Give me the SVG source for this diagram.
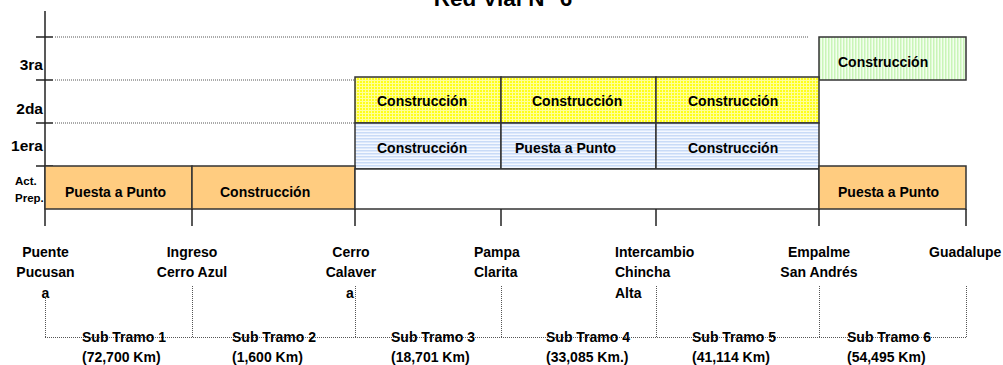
<svg xmlns="http://www.w3.org/2000/svg" width="1003" height="365" viewBox="0 0 1003 365">
<defs>
<pattern id="pY" width="3" height="3" patternUnits="userSpaceOnUse"><rect width="3" height="3" fill="#FFFF99"/><rect width="2" height="2" fill="#FFFF1A"/></pattern>
<pattern id="pB" width="3" height="3" patternUnits="userSpaceOnUse"><rect width="3" height="3" fill="#F4F8FF"/><rect width="3" height="1.5" fill="#C9DBF7"/></pattern>
<pattern id="pG" width="3" height="3" patternUnits="userSpaceOnUse"><rect width="3" height="3" fill="#F3FFEE"/><rect width="1.5" height="3" fill="#C9F5B8"/></pattern>
</defs>
<style>
text{font-family:"Liberation Sans",Arial,sans-serif;font-weight:bold;fill:#000}
.t{font-size:14px}
.r{font-size:15.5px;text-anchor:end}
.s{font-size:11.5px}
.c{text-anchor:middle}
.box{stroke:#333;stroke-width:1.5}
.ax{stroke:#222;stroke-width:1.5;fill:none}
.dot{stroke:#555;stroke-width:1;stroke-dasharray:1 1;fill:none}
</style>
<rect width="1003" height="365" fill="#fff"/>
<text x="503" y="6" class="c" style="font-size:22.5px">Red Vial N° 6</text>

<g id="axis">
<line class="ax" x1="45" y1="11" x2="45" y2="226"/>
<line class="ax" x1="36" y1="37" x2="53" y2="37"/>
<line class="ax" x1="36" y1="80" x2="53" y2="80"/>
<line class="ax" x1="36" y1="123" x2="53" y2="123"/>
<line class="ax" x1="36" y1="166" x2="53" y2="166"/>
<line class="dot" x1="55" y1="37" x2="809" y2="37"/>
<line class="dot" x1="55" y1="80" x2="355" y2="80"/>
<line class="dot" x1="55" y1="123" x2="355" y2="123"/>
<text x="43" y="70" class="r">3ra</text>
<text x="43" y="114" class="r">2da</text>
<text x="43" y="151" class="r">1era</text>
<text x="15" y="185" class="s">Act.</text>
<text x="15" y="202" class="s">Prep.</text>
</g>

<g id="row3">
<rect class="box" x="819" y="37" width="147" height="43" fill="url(#pG)"/>
<text x="838" y="67" class="t">Construcción</text>
</g>
<g id="row2">
<rect class="box" x="355" y="77" width="146" height="46" fill="url(#pY)"/>
<rect class="box" x="501" y="77" width="155" height="46" fill="url(#pY)"/>
<rect class="box" x="656" y="77" width="163" height="46" fill="url(#pY)"/>
<text x="377" y="106" class="t">Construcción</text>
<text x="532" y="106" class="t">Construcción</text>
<text x="688" y="106" class="t">Construcción</text>
</g>
<g id="row1">
<rect class="box" x="355" y="123" width="146" height="46" fill="url(#pB)"/>
<rect class="box" x="501" y="123" width="155" height="46" fill="url(#pB)"/>
<rect class="box" x="656" y="123" width="163" height="46" fill="url(#pB)"/>
<text x="377" y="153" class="t">Construcción</text>
<text x="515" y="153" class="t">Puesta a Punto</text>
<text x="688" y="153" class="t">Construcción</text>
</g>
<g id="row0">
<rect class="box" x="45" y="166" width="147" height="43" fill="#FFCC80"/>
<rect class="box" x="192" y="166" width="163" height="43" fill="#FFCC80"/>
<rect class="box" x="355" y="169" width="464" height="40" fill="#fff"/>
<rect class="box" x="819" y="166" width="147" height="43" fill="#FFCC80"/>
<text x="65" y="197" class="t">Puesta a Punto</text>
<text x="220" y="197" class="t">Construcción</text>
<text x="838" y="197" class="t">Puesta a Punto</text>
</g>

<g id="connectors">
<line class="ax" x1="192" y1="209" x2="192" y2="226"/>
<line class="ax" x1="355" y1="209" x2="355" y2="226"/>
<line class="ax" x1="501" y1="209" x2="501" y2="226"/>
<line class="ax" x1="656" y1="209" x2="656" y2="226"/>
<line class="ax" x1="819" y1="209" x2="819" y2="226"/>
<line class="ax" x1="966" y1="209" x2="966" y2="226"/>
<line class="dot" x1="45.5" y1="298" x2="45.5" y2="337"/>
<line class="dot" x1="192.5" y1="286" x2="192.5" y2="337"/>
<line class="dot" x1="355.5" y1="286" x2="355.5" y2="337"/>
<line class="dot" x1="501.5" y1="286" x2="501.5" y2="337"/>
<line class="dot" x1="656.5" y1="286" x2="656.5" y2="337"/>
<line class="dot" x1="819.5" y1="286" x2="819.5" y2="337"/>
<line class="dot" x1="966.5" y1="286" x2="966.5" y2="337"/>
<line class="dot" x1="45" y1="337.5" x2="966" y2="337.5"/>
</g>

<g id="points">
<text x="45.5" y="257" class="t c">Puente</text>
<text x="45.5" y="277" class="t c">Pucusan</text>
<text x="45.5" y="298" class="t c">a</text>
<text x="192" y="257" class="t c">Ingreso</text>
<text x="192" y="277" class="t c">Cerro Azul</text>
<text x="351" y="257" class="t c">Cerro</text>
<text x="351" y="277" class="t c">Calaver</text>
<text x="350" y="298" class="t c">a</text>
<text x="474" y="257" class="t">Pampa</text>
<text x="474" y="277" class="t">Clarita</text>
<text x="615" y="257" class="t">Intercambio</text>
<text x="615" y="277" class="t">Chincha</text>
<text x="615" y="298" class="t">Alta</text>
<text x="819" y="257" class="t c">Empalme</text>
<text x="819" y="277" class="t c">San Andrés</text>
<text x="929" y="257" class="t">Guadalupe</text>
</g>

<g id="tramos">
<text x="82" y="342" class="t">Sub Tramo 1</text>
<text x="82" y="362" class="t">(72,700 Km)</text>
<text x="232" y="342" class="t">Sub Tramo 2</text>
<text x="232" y="362" class="t">(1,600 Km)</text>
<text x="391" y="342" class="t">Sub Tramo 3</text>
<text x="391" y="362" class="t">(18,701 Km)</text>
<text x="546" y="342" class="t">Sub Tramo 4</text>
<text x="546" y="362" class="t">(33,085 Km.)</text>
<text x="692" y="342" class="t">Sub Tramo 5</text>
<text x="692" y="362" class="t">(41,114 Km)</text>
<text x="847" y="342" class="t">Sub Tramo 6</text>
<text x="847" y="362" class="t">(54,495 Km)</text>
</g>
</svg>
